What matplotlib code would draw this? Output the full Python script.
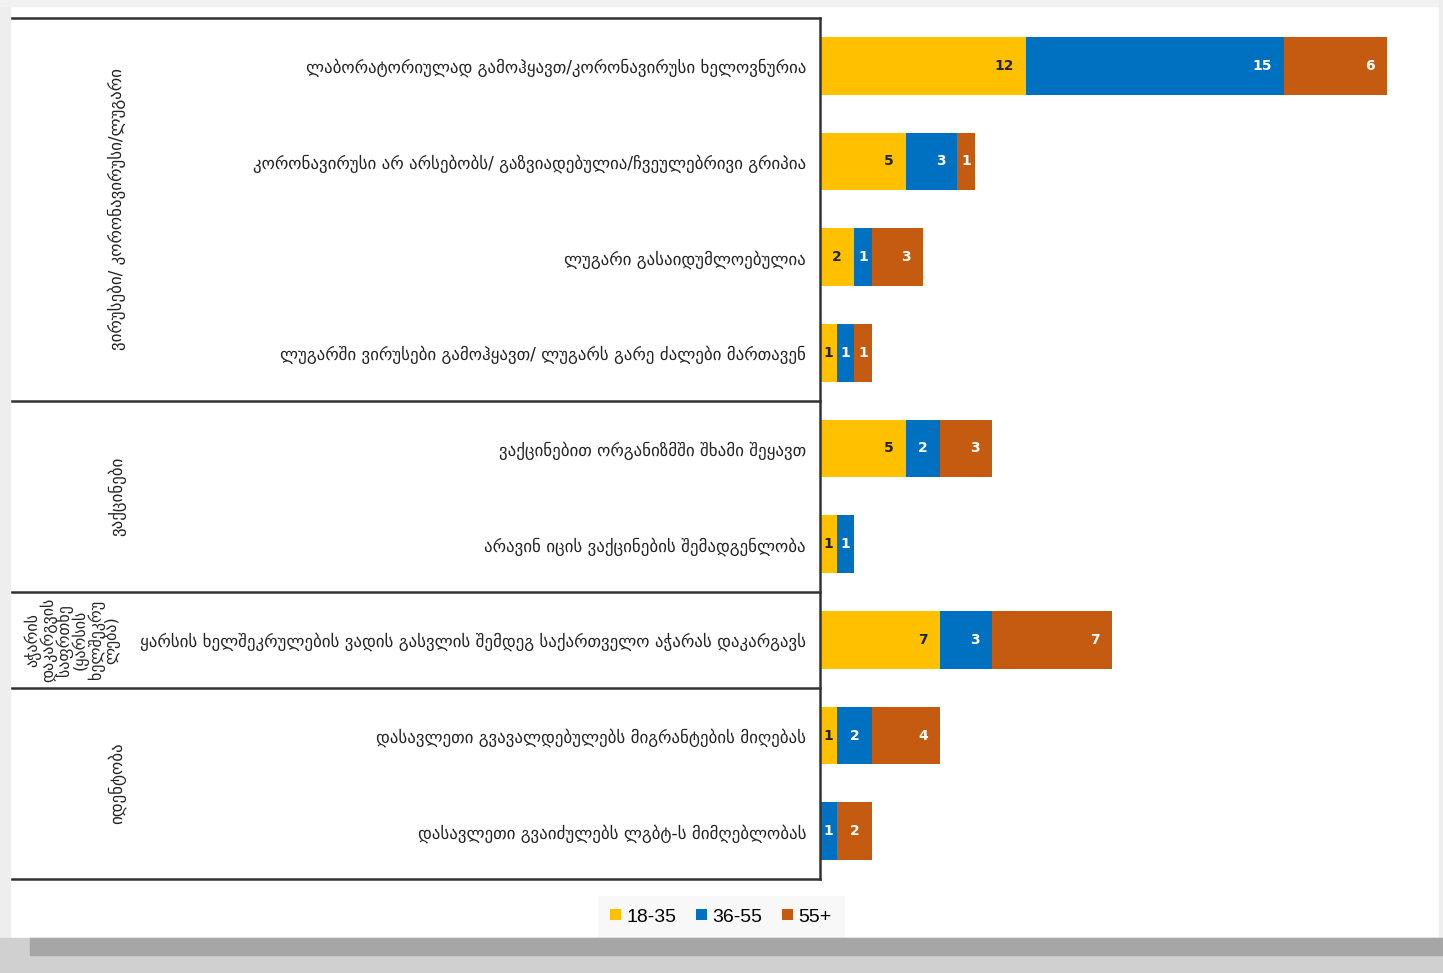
import numpy as np
import matplotlib.pyplot as plt
from matplotlib.patches import Rectangle

plt.rcParams['font.family'] = ['DejaVu Sans']

categories = [
    'ლაბორატორიულად გამოჰყავთ/კორონავირუსი ხელოვნურია',
    'კორონავირუსი არ არსებობს/ გაზვიადებულია/ჩვეულებრივი გრიპია',
    'ლუგარი გასაიდუმლოებულია',
    'ლუგარში ვირუსები გამოჰყავთ/ ლუგარს გარე ძალები მართავენ',
    'ვაქცინებით ორგანიზმში შხამი შეყავთ',
    'არავინ იცის ვაქცინების შემადგენლობა',
    'ყარსის ხელშეკრულების ვადის გასვლის შემდეგ საქართველო აჭარას დაკარგავს',
    'დასავლეთი გვავალდებულებს მიგრანტების მიღებას',
    'დასავლეთი გვაიძულებს ლგბტ-ს მიმღებლობას',
]
groups = [
    'ვირუსები/ კორონავირუსი/ლუგარი',
    'ვაქცინები',
    'აჭარის\nდაკარგვის\nსაფრთხე\n(ყარსის\nხელშეკრუ\nლება)',
    'იდენტობა',
]
group_rows = [(0, 3), (4, 5), (6, 6), (7, 8)]

series = ['18-35', '36-55', '55+']
v_18_35 = [12, 5, 2, 1, 5, 1, 7, 1, 0]
v_36_55 = [15, 3, 1, 1, 2, 1, 3, 2, 1]
v_55 = [6, 1, 3, 1, 3, 0, 7, 4, 2]
colors = ['#FFC000', '#0070C0', '#C55A11']

fig = plt.figure(figsize=(14.43, 9.73), dpi=100)
W, H = 1443, 973

# screenshot frame
fig.patches.append(Rectangle((0, 0), 10 / W, 1, transform=fig.transFigure, color='#eeeeee', zorder=0))
fig.patches.append(Rectangle((0, 1 - 6 / H), 1, 6 / H, transform=fig.transFigure, color='#f2f2f2', zorder=0))
fig.patches.append(Rectangle((1 - 4 / W, 0), 4 / W, 1, transform=fig.transFigure, color='#eeeeee', zorder=0))
fig.patches.append(Rectangle((0, 0), 1, 35 / H, transform=fig.transFigure, color='#d0d0d0', zorder=0))
fig.patches.append(Rectangle((30 / W, 18 / H), 1 - 30 / W, 17 / H, transform=fig.transFigure, color='#a6a6a6', zorder=0))

ax = fig.add_axes([820 / W, 1 - 879 / H, 620 / W, 861 / H])
ax.set_facecolor('none')

y = np.arange(len(categories))
left = np.zeros(len(categories))
for name, vals, c in zip(series, [v_18_35, v_36_55, v_55], colors):
    vals = np.array(vals, dtype=float)
    ax.barh(y, vals, left=left, height=0.6, color=c, label=name)
    for yi, (l, v) in enumerate(zip(left, vals)):
        if v <= 0:
            continue
        tc = '#222222' if c == '#FFC000' else 'white'
        if v <= 2:
            ax.text(l + v / 2, yi, f'{int(v)}', ha='center', va='center',
                    fontsize=10, fontweight='bold', color=tc)
        else:
            ax.text(l + v - 0.7, yi, f'{int(v)}', ha='right', va='center',
                    fontsize=10, fontweight='bold', color=tc)
    left += vals

ax.set_xlim(0, 36.1)
ax.set_ylim(len(categories) - 0.5, -0.5)
ax.set_xticks([])
ax.set_yticks(y)
ax.set_yticklabels(categories, fontsize=12.2, color='#222222')
ax.tick_params(axis='y', length=0, pad=10)
for s in ['top', 'right', 'bottom']:
    ax.spines[s].set_visible(False)
ax.spines['left'].set_color('#333333')
ax.spines['left'].set_linewidth(1.8)

tr = ax.get_yaxis_transform()
x0 = (10 - 820) / 620
for b in [-0.5, 3.5, 5.5, 6.5, 8.5]:
    ax.plot([x0, 0], [b, b], transform=tr, color='#333333', lw=1.8, clip_on=False)

for (a, b), g in zip(group_rows, groups):
    multi = '\n' in g
    xc = (72 - 820) / 620 if multi else (117 - 820) / 620
    ax.text(xc, (a + b) / 2, g, transform=tr, rotation=90, ha='center', va='center',
            fontsize=11.5 if multi else 12.2, color='#222222', linespacing=0.88,
            multialignment='center')

leg = ax.legend(loc='center', bbox_to_anchor=(721 / W, 1 - 917 / H), bbox_transform=fig.transFigure,
                ncol=3, frameon=True, handlelength=0.55, handleheight=0.55,
                handletextpad=0.3, columnspacing=1.0, borderpad=0.35,
                prop={'family': 'Liberation Sans', 'size': 14})
leg.get_frame().set_facecolor('#f7f7f7')
leg.get_frame().set_edgecolor('none')
leg.get_frame().set_boxstyle('square')

fig.savefig('out.png', dpi=100, facecolor='white')
